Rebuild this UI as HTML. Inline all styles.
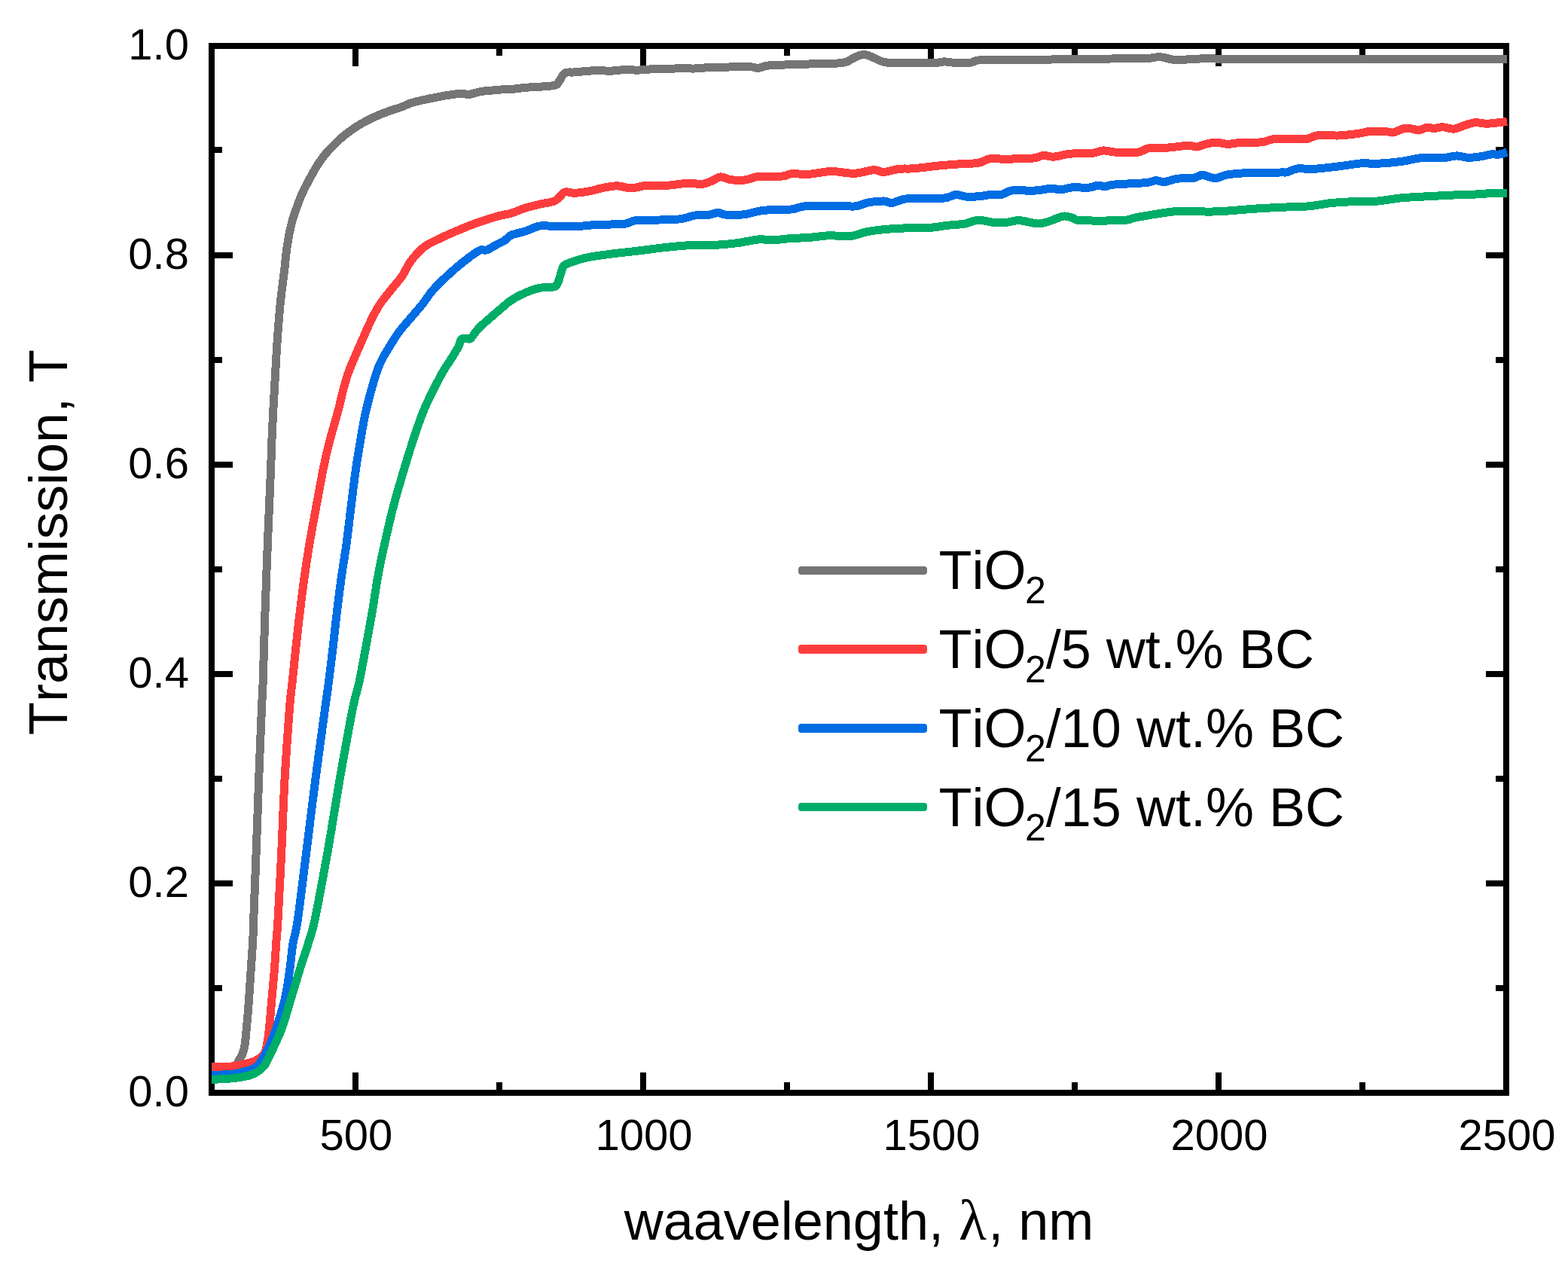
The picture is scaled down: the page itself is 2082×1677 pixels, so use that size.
<!DOCTYPE html>
<html lang="en">
<head>
<meta charset="utf-8">
<title>Transmission spectra</title>
<style>
html,body{margin:0;padding:0;background:#fff;}
body{width:2082px;height:1677px;overflow:hidden;font-family:"Liberation Sans",sans-serif;}
svg{display:block;}
svg text{font-kerning:none;}
</style>
</head>
<body>
<svg width="2082" height="1677" viewBox="0 0 2082 1677">
<rect x="0" y="0" width="2082" height="1677" fill="#fff"/>
<g stroke="#000" stroke-width="8" fill="none" shape-rendering="crispEdges">
<path d="M472,1451v-27M472,61v27M854,1451v-27M854,61v27M1236,1451v-27M1236,61v27M1618,1451v-27M1618,61v27M663,1451v-14M663,61v13M1045,1451v-14M1045,61v13M1427,1451v-14M1427,61v13M1809,1451v-14M1809,61v13M281,1173h28M2000,1173h-27M281,895h28M2000,895h-27M281,617h28M2000,617h-27M281,339h28M2000,339h-27M281,1312h14M2000,1312h-14M281,1034h14M2000,1034h-14M281,756h14M2000,756h-14M281,478h14M2000,478h-14M281,199h14M2000,199h-14"/>
<rect x="281" y="61" width="1719" height="1390"/>
</g>
<g fill="none" stroke-width="11" stroke-linejoin="round" stroke-linecap="butt" shape-rendering="crispEdges">
<path d="M281.3,1419.5C284.4,1419.4 295.6,1419.4 300.0,1419.0C304.4,1418.6 305.6,1418.0 308.0,1417.0C310.4,1416.0 312.9,1414.5 314.5,1412.8C316.1,1411.1 316.3,1409.1 317.5,1407.0C318.7,1404.9 320.2,1403.5 321.5,1400.3C322.8,1397.1 324.0,1394.1 325.0,1387.8C326.0,1381.5 326.7,1373.2 327.6,1362.7C328.6,1352.2 329.8,1337.6 330.7,1325.1C331.6,1312.6 332.4,1300.1 333.2,1287.6C334.0,1275.1 335.1,1261.0 335.7,1250.0C336.3,1239.0 335.9,1242.1 336.7,1221.8C337.5,1201.5 339.1,1159.2 340.3,1127.9C341.5,1096.6 342.5,1065.2 343.7,1033.9C344.9,1002.6 346.6,961.2 347.5,940.0C348.4,918.8 348.4,928.0 349.1,906.8C349.9,885.6 350.9,844.2 352.0,812.9C353.1,781.6 354.2,750.2 355.5,718.9C356.8,687.6 358.6,646.2 359.5,625.0C360.4,603.8 360.1,605.2 360.6,591.8C361.2,578.4 362.0,560.4 362.8,544.8C363.6,529.1 364.6,513.5 365.5,497.9C366.4,482.2 367.2,466.6 368.3,450.9C369.4,435.2 370.6,419.0 372.1,403.9C373.6,388.8 376.2,370.7 377.5,360.0C378.8,349.3 378.9,345.6 379.6,339.6C380.3,333.6 380.9,329.3 381.7,324.2C382.5,319.1 383.3,314.0 384.4,308.9C385.4,303.8 386.6,298.6 388.0,293.5C389.4,288.4 391.3,283.2 393.1,278.1C394.9,273.0 396.7,267.8 398.8,262.7C400.9,257.6 403.3,252.5 405.9,247.4C408.4,242.3 411.5,236.7 414.1,232.0C416.7,227.3 418.4,224.0 421.5,219.3C424.6,214.6 428.4,209.0 432.7,203.9C437.0,198.8 443.3,192.6 447.3,188.6C451.3,184.6 452.8,183.4 456.9,180.1C461.0,176.8 467.1,172.3 472.2,168.9C477.3,165.5 482.5,162.6 487.6,159.9C492.7,157.2 497.9,155.0 503.0,152.8C508.1,150.6 513.3,148.7 518.4,146.9C523.5,145.1 529.2,143.6 533.7,141.9C538.2,140.2 540.9,138.4 545.4,136.9C549.9,135.4 555.6,134.2 560.7,133.0C565.8,131.8 571.0,130.8 576.1,129.8C581.2,128.8 586.4,127.7 591.5,126.9C596.6,126.1 602.4,125.1 606.9,124.8C611.4,124.5 615.6,124.9 618.4,125.0C621.2,125.1 620.6,125.8 623.8,125.3C627.0,124.8 632.7,122.6 637.6,121.7C642.5,120.8 647.9,120.6 653.0,120.1C658.1,119.6 663.3,119.1 668.4,118.8C673.5,118.5 678.9,118.4 683.7,118.0C688.6,117.6 689.0,117.0 697.5,116.3C706.0,115.6 727.5,115.0 735.0,113.6C742.5,112.2 740.0,110.6 742.5,107.8C745.0,105.0 746.6,99.0 750.0,97.0C753.4,95.0 756.1,96.5 763.0,95.9C769.9,95.3 783.3,93.9 791.1,93.6C798.9,93.3 803.6,94.3 809.9,94.2C816.1,94.1 822.4,92.9 828.6,92.7C834.8,92.5 841.0,93.2 847.3,93.1C853.5,92.9 859.9,92.0 866.1,91.8C872.4,91.5 878.6,91.8 884.8,91.6C891.0,91.4 897.2,90.8 903.5,90.7C909.8,90.6 916.0,91.2 922.3,91.0C928.5,90.8 931.6,90.1 941.0,89.7C950.4,89.3 969.1,89.0 978.5,88.8C987.9,88.6 992.5,88.5 997.2,88.8C1001.9,89.0 1002.9,90.6 1006.6,90.3C1010.4,90.0 1013.3,87.8 1019.7,87.1C1026.1,86.4 1035.3,86.3 1045.0,85.9C1054.7,85.5 1065.3,85.3 1077.6,84.9C1089.9,84.5 1109.5,84.8 1118.9,83.4C1128.3,82.0 1129.2,78.5 1133.9,76.7C1138.6,74.9 1142.7,72.4 1147.1,72.4C1151.5,72.4 1156.1,75.2 1160.2,76.7C1164.3,78.2 1167.1,80.6 1171.5,81.7C1175.9,82.8 1175.2,83.3 1186.5,83.6C1197.8,83.9 1227.8,83.9 1239.1,83.6C1250.4,83.3 1249.2,81.9 1254.2,81.9C1259.2,81.9 1263.6,83.3 1269.2,83.6C1274.8,83.8 1282.7,84.1 1288.0,83.4C1293.3,82.8 1292.3,80.4 1301.1,79.7C1309.9,79.0 1326.2,79.5 1340.6,79.5C1355.0,79.5 1377.5,79.7 1387.5,79.5C1397.5,79.3 1394.5,78.8 1400.7,78.6C1407.0,78.4 1412.4,78.5 1425.0,78.4C1437.6,78.3 1460.3,78.1 1476.4,78.0C1492.5,77.9 1510.8,78.0 1521.4,77.6C1532.0,77.2 1533.9,75.4 1540.2,75.7C1546.5,76.0 1553.4,78.9 1559.0,79.5C1564.6,80.1 1567.1,79.4 1574.0,79.1C1580.9,78.8 1590.0,77.9 1600.3,77.8C1610.6,77.7 1601.0,78.1 1636.0,78.2C1671.0,78.3 1749.2,78.5 1810.0,78.6C1870.8,78.7 1969.2,78.6 2001.0,78.6" stroke="#757575"/>
<path d="M281.3,1416.8C285.1,1416.8 297.3,1417.0 303.8,1416.5C310.3,1416.0 315.3,1414.5 320.1,1413.6C324.9,1412.6 329.3,1411.7 332.6,1410.8C335.9,1409.9 337.1,1409.8 340.0,1408.0C342.9,1406.2 347.8,1403.7 350.2,1400.3C352.6,1396.9 353.1,1394.1 354.3,1387.8C355.6,1381.5 356.6,1373.2 357.7,1362.7C358.8,1352.2 359.9,1337.6 361.0,1325.1C362.1,1312.6 363.4,1299.7 364.4,1287.6C365.3,1275.5 365.9,1263.5 366.7,1252.5C367.5,1241.5 367.8,1242.6 369.0,1221.8C370.2,1201.0 372.4,1159.2 373.9,1127.9C375.4,1096.6 376.3,1065.2 378.1,1033.9C379.9,1002.6 382.9,961.2 384.5,940.0C386.1,918.8 386.6,920.2 388.0,906.8C389.4,893.4 391.2,875.4 392.9,859.8C394.6,844.1 396.3,828.5 398.2,812.9C400.1,797.2 402.0,781.6 404.2,765.9C406.4,750.2 408.9,734.5 411.5,718.9C414.1,703.2 417.1,687.6 420.0,672.0C422.9,656.4 426.1,638.4 428.8,625.0C431.5,611.6 432.7,605.2 436.1,591.8C439.5,578.4 444.9,560.4 449.1,544.8C453.3,529.1 456.1,513.5 461.5,497.9C466.9,482.2 475.8,463.4 481.2,450.9C486.6,438.4 490.1,430.5 494.0,422.7C497.9,414.9 500.3,410.2 504.5,403.9C508.7,397.6 514.1,391.4 519.0,385.1C523.9,378.9 529.6,372.8 534.0,366.4C538.4,360.0 540.8,353.1 545.5,346.8C550.2,340.5 556.6,333.1 562.5,328.4C568.4,323.6 574.5,321.4 580.6,318.3C586.8,315.2 593.1,312.4 599.4,309.6C605.7,306.8 612.0,304.2 618.2,301.7C624.5,299.2 629.9,297.0 636.9,294.6C643.9,292.2 654.5,288.9 660.0,287.3C665.5,285.7 666.9,285.7 670.0,285.0C673.1,284.3 674.2,284.7 678.8,283.2C683.4,281.7 691.3,278.2 697.6,276.2C703.9,274.2 710.1,272.8 716.4,271.3C722.6,269.8 730.7,268.9 735.1,267.4C739.5,265.8 740.2,264.1 742.7,262.0C745.2,259.9 746.8,255.9 750.2,255.0C753.6,254.1 758.0,256.5 763.3,256.3C768.6,256.1 775.8,255.2 782.1,254.0C788.4,252.8 794.6,250.6 800.9,249.4C807.2,248.2 813.4,246.8 819.7,246.9C826.0,247.0 832.2,250.0 838.5,249.9C844.8,249.8 849.5,247.1 857.3,246.5C865.1,245.9 876.0,246.9 885.4,246.3C894.8,245.8 905.8,243.5 913.6,243.2C921.4,242.9 927.1,245.0 932.4,244.5C937.7,244.0 941.5,241.6 945.6,240.0C949.7,238.4 952.7,235.1 956.8,234.9C960.9,234.7 964.7,237.9 970.0,238.6C975.3,239.3 982.5,239.7 988.8,239.0C995.0,238.3 1001.2,235.0 1007.5,234.3C1013.8,233.6 1020.5,235.0 1026.3,234.9C1032.0,234.8 1037.8,234.2 1042.0,233.5C1046.2,232.8 1046.0,231.1 1051.3,230.7C1056.6,230.3 1065.0,231.8 1073.8,231.3C1082.6,230.8 1093.9,227.7 1103.9,227.5C1113.9,227.3 1124.5,230.6 1133.9,230.3C1143.3,230.0 1153.6,226.0 1160.2,225.7C1166.8,225.4 1167.8,228.7 1173.4,228.5C1179.0,228.3 1187.4,225.1 1194.0,224.3C1200.6,223.5 1204.0,224.5 1212.8,223.8C1221.6,223.1 1236.4,221.0 1246.7,220.0C1257.0,219.0 1266.0,218.4 1274.8,217.8C1283.5,217.2 1292.6,217.5 1299.2,216.3C1305.8,215.1 1308.7,211.7 1314.3,210.8C1319.9,210.0 1325.6,211.2 1333.1,211.2C1340.6,211.2 1352.5,210.8 1359.4,210.6C1366.3,210.3 1370.0,210.4 1374.4,209.7C1378.8,209.0 1381.6,206.6 1385.7,206.3C1389.8,206.1 1393.8,208.4 1398.8,208.2C1403.8,208.0 1410.5,205.8 1415.7,205.0C1420.9,204.2 1424.3,203.8 1430.0,203.6C1435.7,203.3 1444.2,204.1 1450.1,203.5C1455.9,202.9 1460.1,200.2 1465.1,199.9C1470.1,199.7 1472.6,201.6 1480.1,202.0C1487.6,202.4 1502.7,203.2 1510.2,202.4C1517.7,201.6 1518.3,198.0 1525.2,196.9C1532.1,195.8 1542.7,196.6 1551.5,196.0C1560.3,195.4 1571.5,193.4 1577.8,193.2C1584.1,193.0 1584.7,195.4 1589.1,195.0C1593.5,194.6 1599.4,191.4 1604.1,190.5C1608.8,189.6 1612.9,189.3 1617.3,189.4C1621.7,189.5 1625.1,191.3 1630.4,191.3C1635.7,191.3 1641.7,189.6 1649.2,189.2C1656.7,188.8 1668.6,189.5 1675.5,188.8C1682.4,188.1 1683.0,185.7 1690.5,184.9C1698.0,184.2 1713.1,184.4 1720.6,184.3C1728.1,184.2 1730.4,185.3 1735.4,184.5C1740.4,183.7 1743.5,180.3 1750.4,179.6C1757.3,178.8 1768.3,180.3 1776.7,180.0C1785.1,179.7 1793.8,178.6 1801.0,177.7C1808.2,176.8 1812.8,174.9 1819.7,174.4C1826.6,173.9 1837.3,174.7 1842.3,174.9C1847.3,175.2 1846.0,176.6 1849.8,175.9C1853.5,175.2 1860.4,171.4 1864.8,170.6C1869.2,169.8 1873.0,170.8 1876.1,171.2C1879.2,171.6 1880.5,173.3 1883.6,173.0C1886.7,172.7 1891.5,169.7 1894.9,169.3C1898.4,168.9 1900.8,170.7 1904.3,170.6C1907.8,170.5 1911.2,168.6 1915.6,168.7C1920.0,168.8 1925.9,171.5 1930.6,171.2C1935.3,170.9 1939.0,168.2 1943.7,166.8C1948.4,165.4 1953.8,163.1 1958.8,162.7C1963.8,162.3 1968.8,164.2 1973.8,164.2C1978.8,164.2 1984.3,163.4 1988.8,162.9C1993.3,162.4 1999.0,161.7 2001.0,161.4" stroke="#fd3d3d"/>
<path d="M281.3,1427.7C286.1,1427.4 302.9,1426.8 310.0,1426.0C317.1,1425.2 320.1,1423.6 323.9,1422.7C327.7,1421.8 329.5,1422.1 332.6,1420.8C335.7,1419.5 339.3,1417.9 342.4,1414.8C345.5,1411.7 348.4,1406.5 351.0,1402.0C353.6,1397.5 355.2,1394.3 358.0,1387.8C360.8,1381.2 364.3,1373.2 367.7,1362.7C371.1,1352.2 375.8,1337.6 378.6,1325.1C381.4,1312.6 382.9,1299.8 384.7,1287.6C386.4,1275.4 387.3,1263.0 389.1,1252.0C390.9,1241.0 392.3,1242.5 395.3,1221.8C398.3,1201.1 403.2,1159.2 407.2,1127.9C411.1,1096.6 414.9,1065.2 419.0,1033.9C423.1,1002.6 428.8,961.2 431.7,940.0C434.6,918.8 434.6,920.2 436.3,906.8C438.0,893.4 440.2,875.4 442.1,859.8C444.0,844.1 445.5,828.5 447.4,812.9C449.3,797.2 451.2,781.6 453.4,765.9C455.6,750.2 458.4,734.5 460.5,718.9C462.6,703.2 464.2,687.6 466.2,672.0C468.1,656.4 470.3,638.4 472.2,625.0C474.1,611.6 475.1,605.2 477.4,591.8C479.7,578.4 482.5,560.4 486.1,544.8C489.7,529.1 495.5,508.8 498.9,497.9C502.3,486.9 503.4,485.4 506.4,479.1C509.4,472.8 513.3,466.6 517.1,460.3C520.9,454.0 524.7,447.8 529.3,441.5C533.9,435.2 539.6,429.0 544.9,422.7C550.2,416.4 555.9,410.2 560.9,403.9C565.9,397.6 569.4,391.4 574.9,385.1C580.4,378.9 586.6,372.9 593.7,366.4C600.8,359.8 610.5,351.4 617.7,345.8C624.9,340.2 632.1,334.8 636.9,332.5C641.7,330.2 642.4,333.2 646.3,331.9C650.1,330.6 656.0,326.6 660.0,324.5C664.0,322.4 666.9,321.4 670.0,319.4C673.1,317.4 674.2,314.4 678.8,312.3C683.4,310.2 691.3,309.0 697.6,307.0C703.9,305.0 710.1,301.2 716.4,300.1C722.6,299.0 725.7,300.3 735.1,300.3C744.5,300.3 763.3,300.4 772.7,300.1C782.1,299.8 782.1,298.9 791.5,298.4C800.9,297.9 820.3,298.3 829.1,297.3C837.9,296.3 836.3,293.5 844.1,292.6C851.9,291.7 866.0,292.3 876.0,292.0C886.0,291.7 896.4,291.7 904.2,290.7C912.0,289.7 916.7,286.9 923.0,286.0C929.3,285.1 936.8,285.8 941.8,285.2C946.8,284.6 949.4,282.4 953.1,282.4C956.9,282.4 958.3,284.8 964.3,285.2C970.2,285.6 981.6,285.5 988.8,284.7C996.0,283.9 1001.2,281.3 1007.5,280.3C1013.8,279.3 1020.0,278.8 1026.3,278.5C1032.5,278.2 1040.2,278.6 1045.0,278.4C1049.8,278.2 1050.8,278.1 1055.0,277.3C1059.2,276.5 1060.7,274.3 1070.1,273.6C1079.5,272.9 1100.5,273.1 1111.4,273.2C1122.4,273.2 1128.9,274.6 1135.8,273.9C1142.7,273.2 1146.4,270.0 1152.7,268.9C1159.0,267.8 1168.1,266.9 1173.4,267.0C1178.7,267.1 1179.4,270.0 1184.7,269.4C1190.0,268.8 1194.0,264.6 1205.3,263.6C1216.6,262.6 1241.6,264.1 1252.3,263.2C1263.0,262.3 1263.9,258.8 1269.2,258.5C1274.5,258.2 1278.6,261.0 1284.2,261.3C1289.8,261.6 1297.7,260.9 1303.0,260.4C1308.3,259.9 1311.8,258.5 1316.2,258.2C1320.6,257.9 1324.6,259.4 1329.3,258.5C1334.0,257.6 1337.7,253.6 1344.3,252.7C1350.9,251.8 1362.2,253.4 1368.8,253.3C1375.4,253.2 1379.1,252.5 1383.8,252.0C1388.5,251.5 1392.8,250.1 1396.9,250.1C1401.0,250.1 1403.8,252.2 1408.2,252.0C1412.6,251.8 1416.9,249.4 1423.2,248.9C1429.5,248.4 1440.6,249.6 1446.3,249.1C1452.0,248.6 1454.1,246.3 1457.6,246.1C1461.0,245.8 1463.2,247.8 1467.0,247.6C1470.8,247.4 1471.0,245.8 1480.1,245.0C1489.2,244.2 1512.3,243.5 1521.4,242.6C1530.5,241.7 1530.5,239.9 1534.6,239.7C1538.7,239.5 1541.2,242.0 1545.9,241.6C1550.6,241.2 1556.2,238.2 1562.8,237.3C1569.4,236.4 1579.7,237.0 1585.3,236.2C1590.9,235.4 1591.9,232.3 1596.6,232.4C1601.3,232.5 1608.2,236.7 1613.5,236.7C1618.8,236.7 1621.9,233.3 1628.5,232.2C1635.1,231.0 1641.1,230.3 1653.0,229.8C1664.9,229.3 1690.7,229.2 1700.0,229.0C1709.3,228.8 1705.2,229.5 1709.1,228.6C1713.0,227.7 1717.6,224.5 1723.2,223.8C1728.8,223.1 1734.0,225.0 1742.9,224.5C1751.8,224.0 1765.8,222.3 1776.7,221.0C1787.6,219.7 1800.1,217.4 1808.5,216.8C1816.9,216.2 1818.5,217.8 1827.3,217.4C1836.1,217.0 1851.1,215.7 1861.1,214.4C1871.1,213.1 1878.0,210.5 1887.4,209.7C1896.8,208.9 1909.6,210.0 1917.4,209.5C1925.2,209.0 1929.0,206.9 1934.3,206.9C1939.6,206.9 1944.1,209.2 1949.4,209.3C1954.7,209.5 1961.3,208.5 1966.3,207.8C1971.3,207.1 1975.3,205.5 1979.4,205.0C1983.5,204.5 1987.1,205.5 1990.7,205.0C1994.3,204.5 1999.3,202.5 2001.0,202.0" stroke="#006de3"/>
<path d="M281.3,1433.3C284.1,1433.2 292.9,1432.9 298.0,1432.6C303.1,1432.3 307.7,1431.9 312.0,1431.4C316.3,1430.9 320.3,1430.3 324.0,1429.6C327.7,1428.9 331.0,1428.1 334.0,1427.0C337.0,1425.9 339.8,1424.4 342.0,1423.0C344.2,1421.6 345.8,1420.2 347.5,1418.5C349.2,1416.8 349.5,1417.9 352.4,1412.8C355.2,1407.7 360.8,1396.1 364.6,1387.8C368.4,1379.5 371.5,1373.2 375.2,1362.7C378.9,1352.2 382.9,1337.6 386.7,1325.1C390.5,1312.6 394.2,1299.8 398.0,1287.6C401.8,1275.4 406.2,1263.0 409.5,1252.0C412.8,1241.0 413.5,1242.5 417.9,1221.8C422.2,1201.1 430.0,1159.2 435.6,1127.9C441.2,1096.6 445.8,1065.2 451.3,1033.9C456.8,1002.6 464.3,961.2 468.5,940.0C472.7,918.8 473.8,920.2 476.7,906.8C479.6,893.4 482.8,875.4 485.7,859.8C488.6,844.1 491.5,828.5 494.2,812.9C496.9,797.2 498.8,781.6 501.7,765.9C504.6,750.2 507.9,734.5 511.4,718.9C514.9,703.2 518.4,687.6 522.5,672.0C526.6,656.4 532.0,638.4 536.0,625.0C540.0,611.6 541.8,605.2 546.2,591.8C550.7,578.4 556.1,560.4 562.7,544.8C569.3,529.1 579.9,508.8 585.7,497.9C591.5,486.9 593.6,485.4 597.5,479.1C601.4,472.8 606.4,465.0 608.8,460.3C611.2,455.6 610.8,452.8 612.0,451.0C613.2,449.2 614.3,449.6 616.3,449.4C618.3,449.2 622.0,450.4 623.8,450.0C625.6,449.6 624.8,449.6 627.0,447.0C629.2,444.4 632.2,439.2 637.0,434.4C641.8,429.6 651.0,422.1 655.7,418.0C660.4,413.9 661.1,413.2 665.0,410.0C668.9,406.8 673.4,402.2 678.8,398.7C684.2,395.1 691.3,391.4 697.6,388.7C703.9,386.0 710.1,383.7 716.4,382.4C722.6,381.1 731.2,381.8 735.1,380.9C739.0,380.0 738.6,379.4 740.0,377.0C741.4,374.6 742.4,370.3 743.6,366.8C744.8,363.3 745.9,358.5 747.0,356.0C748.1,353.5 747.5,353.3 750.2,351.7C752.9,350.1 758.0,348.2 763.3,346.5C768.6,344.8 774.3,342.9 782.1,341.4C789.9,339.9 799.3,338.7 810.3,337.3C821.3,335.9 835.4,334.5 847.9,333.0C860.4,331.5 872.9,329.6 885.4,328.3C897.9,327.0 912.0,325.7 923.0,325.2C934.0,324.7 941.8,325.6 951.2,325.2C960.6,324.8 970.0,323.8 979.4,322.6C988.8,321.4 999.7,318.5 1007.5,317.9C1015.3,317.3 1020.0,319.1 1026.3,319.0C1032.5,318.9 1036.5,317.6 1045.0,317.0C1053.5,316.4 1068.4,315.8 1077.6,315.1C1086.8,314.4 1091.3,313.1 1100.1,312.8C1108.9,312.5 1121.4,314.3 1130.2,313.4C1139.0,312.5 1142.7,309.1 1152.7,307.4C1162.7,305.7 1176.5,304.2 1190.3,303.4C1204.1,302.5 1224.5,302.9 1235.4,302.3C1246.4,301.7 1248.5,300.4 1256.0,299.5C1263.5,298.6 1273.3,298.4 1280.5,297.2C1287.7,296.0 1293.0,292.5 1299.2,292.2C1305.5,291.9 1311.7,294.7 1318.0,295.2C1324.3,295.7 1330.8,295.6 1336.8,295.2C1342.8,294.8 1346.8,292.4 1353.7,292.7C1360.6,293.0 1371.6,296.8 1378.2,297.0C1384.8,297.2 1387.6,295.4 1393.2,293.8C1398.8,292.2 1406.7,287.8 1412.0,287.1C1417.3,286.4 1421.2,288.6 1425.0,289.5C1428.8,290.4 1423.9,292.2 1435.0,292.7C1446.1,293.2 1478.9,293.2 1491.4,292.5C1503.9,291.8 1498.3,290.4 1510.2,288.4C1522.1,286.4 1547.2,281.7 1562.8,280.5C1578.4,279.3 1593.5,281.1 1604.1,281.1C1614.7,281.1 1616.6,280.9 1626.6,280.3C1636.6,279.7 1652.0,278.1 1664.2,277.3C1676.4,276.5 1687.9,275.9 1700.0,275.3C1712.1,274.7 1725.8,274.8 1737.0,273.9C1748.2,272.9 1757.4,270.6 1767.3,269.6C1777.2,268.6 1786.5,268.1 1796.5,267.7C1806.5,267.3 1816.5,268.0 1827.3,267.2C1838.1,266.4 1849.2,263.9 1861.1,262.8C1873.0,261.7 1886.2,261.3 1898.7,260.6C1911.2,259.9 1925.2,259.2 1936.2,258.7C1947.2,258.2 1957.2,258.2 1964.4,257.8C1971.6,257.4 1973.3,256.8 1979.4,256.5C1985.5,256.2 1997.4,256.3 2001.0,256.3" stroke="#00ad67"/>
</g>
<g font-family="'Liberation Sans', sans-serif" font-size="58" fill="#000">
<text x="473.0" y="1527" text-anchor="middle">500</text>
<text x="855.0" y="1527" text-anchor="middle">1000</text>
<text x="1237.0" y="1527" text-anchor="middle">1500</text>
<text x="1619.0" y="1527" text-anchor="middle">2000</text>
<text x="2001.0" y="1527" text-anchor="middle">2500</text>
<text x="251" y="1469.0" text-anchor="end">0.0</text>
<text x="251" y="1191.0" text-anchor="end">0.2</text>
<text x="251" y="913.0" text-anchor="end">0.4</text>
<text x="251" y="635.0" text-anchor="end">0.6</text>
<text x="251" y="357.0" text-anchor="end">0.8</text>
<text x="251" y="79.0" text-anchor="end">1.0</text>
</g>
<g font-family="'Liberation Sans', sans-serif" font-size="72" fill="#000">
<text x="1140.5" y="1646.3" text-anchor="middle">waavelength, <tspan font-family="'Liberation Serif', serif" font-size="76">λ</tspan><tspan dx="2.5">, nm</tspan></text>
<text transform="translate(88.5,720) rotate(-90)" text-anchor="middle">Transmission, T</text>
<rect x="1060" y="752" width="171" height="11" rx="4" ry="4" fill="#757575"/>
<text x="1246.5" y="781.8">TiO<tspan font-size="50" dy="19.5" dx="-1.5">2</tspan></text>
<rect x="1060" y="856" width="171" height="12" rx="4" ry="4" fill="#fd3d3d"/>
<text x="1246.5" y="886.8">TiO<tspan font-size="50" dy="19.5" dx="-1.5">2</tspan><tspan dy="-19.5">/5 wt.% BC</tspan></text>
<rect x="1060" y="961" width="171" height="12" rx="4" ry="4" fill="#006de3"/>
<text x="1246.5" y="991.8">TiO<tspan font-size="50" dy="19.5" dx="-1.5">2</tspan><tspan dy="-19.5">/10 wt.% BC</tspan></text>
<rect x="1060" y="1066" width="171" height="11" rx="4" ry="4" fill="#00ad67"/>
<text x="1246.5" y="1096.7">TiO<tspan font-size="50" dy="19.5" dx="-1.5">2</tspan><tspan dy="-19.5">/15 wt.% BC</tspan></text>
</g>
</svg>
</body>
</html>
